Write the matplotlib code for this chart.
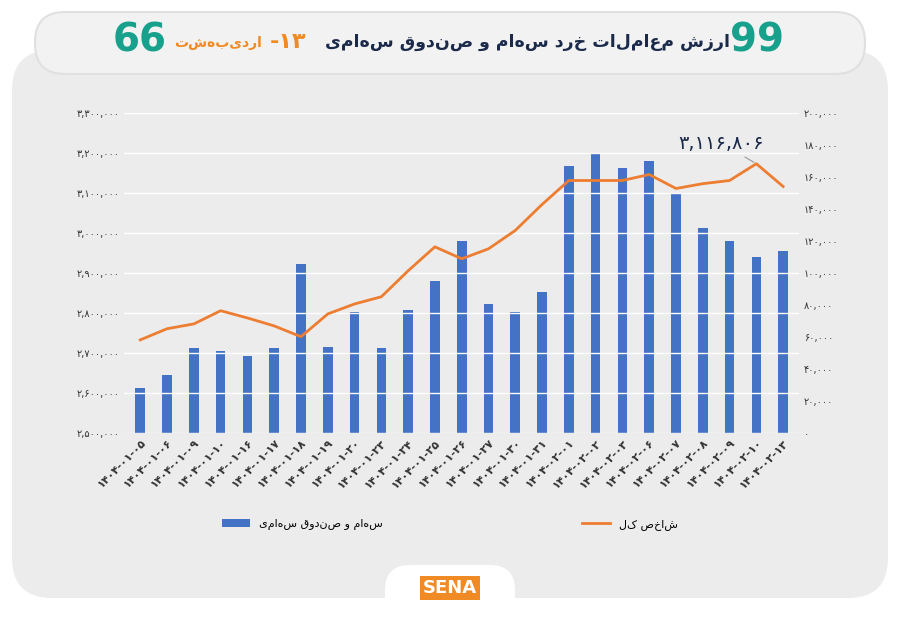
import matplotlib
matplotlib.use("Agg")
import matplotlib.pyplot as plt
from matplotlib.patches import FancyBboxPatch
from matplotlib.ticker import FuncFormatter

plt.rcParams['font.family'] = ['DejaVu Sans']

dates = ["1404-01-05","1404-01-06","1404-01-09","1404-01-10","1404-01-16","1404-01-17","1404-01-18",
         "1404-01-19","1404-01-20","1404-01-23","1404-01-24","1404-01-25","1404-01-26","1404-01-27",
         "1404-01-30","1404-01-31","1404-02-01","1404-02-02","1404-02-03","1404-02-06","1404-02-07",
         "1404-02-08","1404-02-09","1404-02-10","1404-02-13"]
bars = [28000,36000,53000,51000,48000,53000,106000,54000,76000,53000,77000,95000,120000,81000,
        76000,88000,167000,175000,166000,170000,150000,128000,120000,110000,114000]
index = [2733000,2761000,2773000,2806000,2788000,2768000,2741000,2798000,2823000,2841000,2906000,
         2966000,2936000,2961000,3007000,3072000,3132000,3132000,3132000,3147000,3112000,3124000,
         3132000,3174000,3117000]
bar_label = "سهام و صندوق سهامی"
line_label = "شاخص کل"
annot = "3,116,806"

FA = str.maketrans("0123456789", "۰۱۲۳۴۵۶۷۸۹")
def fa(s): return s.translate(FA)
def rtl(s): return s[::-1]

fig = plt.figure(figsize=(9, 6.23), dpi=100)
fig.patch.set_facecolor("white")
bg = fig.add_axes([0, 0, 1, 1]); bg.set_xlim(0, 900); bg.set_ylim(623, 0); bg.axis("off")
bg.add_patch(FancyBboxPatch((12, 50), 876, 548, boxstyle="round,pad=0,rounding_size=40",
                            fc="#ececec", ec="none"))
bg.add_patch(FancyBboxPatch((35, 12), 830, 62, boxstyle="round,pad=0,rounding_size=30",
                            fc="#f2f2f2", ec="#e0e0e0", lw=1.5))
bg.text(730, 42, rtl("ارزش معاملات خرد سهام و صندوق سهامی"), fontsize=12.5, weight="bold",
        color="#1b2a4a", ha="right", va="center")
bg.text(306, 42, fa("-13"), fontsize=16, weight="bold", color="#f08a24", ha="right", va="center")
bg.text(262, 43, rtl("اردیبهشت"), fontsize=10, weight="bold", color="#f08a24", ha="right", va="center")
bg.text(757, 40, "99", fontsize=28, weight="bold", color="#17a08c", ha="center", va="center")
bg.text(140, 40, "66", fontsize=28, weight="bold", color="#17a08c", ha="center", va="center")
bg.add_patch(FancyBboxPatch((385, 565), 130, 58, boxstyle="round,pad=0,rounding_size=25",
                            fc="white", ec="none"))
bg.text(450, 588, "SENA", fontsize=13, weight="bold", color="white", ha="center", va="center",
        bbox=dict(fc="#f08a24", ec="none", pad=2))

ax = fig.add_axes([0.138, 0.305, 0.75, 0.513])
ax2 = ax.twinx()
ax.set_zorder(ax2.get_zorder() + 1); ax.patch.set_visible(False)
x = list(range(len(dates)))
ax2.bar(x, bars, width=0.36, color="#4472c4", label=rtl(bar_label))
ax.plot(x, index, color="#ed7d31", lw=2, label=rtl(line_label))
ax.set_ylim(2500000, 3300000); ax2.set_ylim(0, 200000)
ax.set_yticks(range(2500000, 3300001, 100000))
ax2.set_yticks(range(0, 200001, 20000))
ax.yaxis.set_major_formatter(FuncFormatter(lambda v, p: fa(f"{int(v):,}")))
ax2.yaxis.set_major_formatter(FuncFormatter(lambda v, p: fa(f"{int(v):,}")))
ax.set_xlim(-0.6, len(dates) - 0.4)
ax.set_xticks(x); ax.set_xticklabels([fa(d) for d in dates], rotation=45, ha="right",
                                     rotation_mode="anchor", fontsize=8, weight="bold")
for a in (ax, ax2):
    for s in a.spines.values(): s.set_visible(False)
    a.tick_params(length=0, labelsize=7, colors="#333333")
ax.tick_params(axis="x", labelsize=8)
ax.grid(axis="y", color="white", lw=1)
ax.annotate(fa(annot), xy=(23, index[23]), xytext=(21.7, 3225000), fontsize=14, color="#1b2a4a",
            ha="center", va="center", arrowprops=dict(arrowstyle="-", color="#999999", lw=0.8))
h1, l1 = ax2.get_legend_handles_labels(); h2, l2 = ax.get_legend_handles_labels()
fig.legend(h1 + h2, l1 + l2, loc="center", bbox_to_anchor=(0.5, 0.158), ncol=2, frameon=False,
           fontsize=8, columnspacing=18, handlelength=2.5)
fig.savefig("out.png", dpi=100)
